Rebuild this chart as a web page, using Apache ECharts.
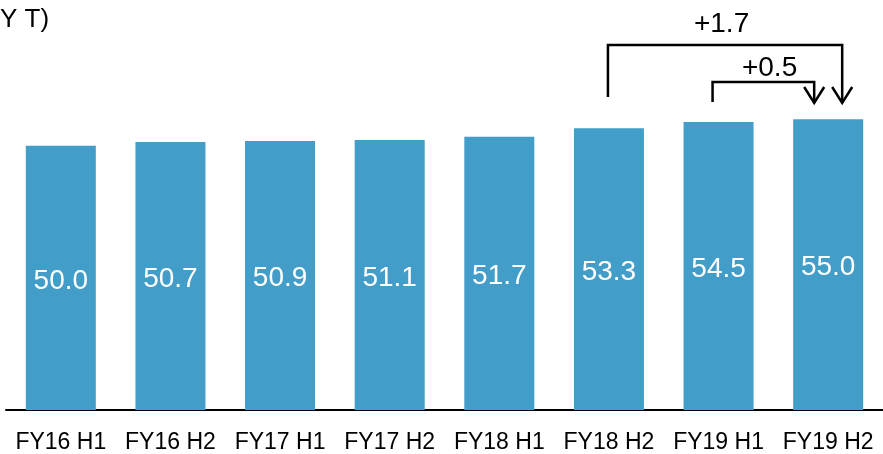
<!DOCTYPE html>
<html>
<head>
<meta charset="utf-8">
<script src="https://cdn.jsdelivr.net/npm/echarts@6/dist/echarts.min.js"></script>
<style>
html,body{margin:0;padding:0;background:#fff;}
#main{width:883px;height:454px;}
</style>
</head>
<body>
<div id="main"></div>
<script>
var categories = ['FY16 H1','FY16 H2','FY17 H1','FY17 H2','FY18 H1','FY18 H2','FY19 H1','FY19 H2'];
var values = [50.0, 50.7, 50.9, 51.1, 51.7, 53.3, 54.5, 55.0];
var unitText = 'Y T)';
var diffLong = '+1.7';
var diffShort = '+0.5';

var FONT = '"Liberation Sans", Arial, sans-serif';
var chart = echarts.init(document.getElementById('main'));
chart.setOption({
  animation: false,
  backgroundColor: '#ffffff',
  grid: { left: 6, width: 880, top: 40, bottom: 43 },
  xAxis: {
    type: 'category',
    data: categories,
    axisLine: { lineStyle: { color: '#000', width: 2 } },
    axisTick: { show: false },
    axisLabel: { color: '#000', fontSize: 23, fontFamily: FONT, margin: 21, interval: 0 }
  },
  yAxis: {
    type: 'value', min: 0, max: 70,
    show: false
  },
  series: [{
    type: 'bar',
    data: values,
    barWidth: 70,
    itemStyle: { color: '#429DC9' },
    label: {
      show: true, position: 'inside', color: '#fff', fontSize: 28, fontFamily: FONT,
      offset: [0, 3],
      formatter: function (p) { return p.value.toFixed(1); }
    }
  }]
});

var cx = function (c) { return chart.convertToPixel({ xAxisIndex: 0 }, c); };
var x18h2 = cx('FY18 H2'), x19h1 = cx('FY19 H1'), x19h2 = cx('FY19 H2');
var ls = { stroke: '#000', lineWidth: 2.5, fill: null };
function bracket(xL, yLeft, yTop, xR, yTip) {
  return [
    { type: 'polyline', shape: { points: [[xL, yLeft], [xL, yTop], [xR, yTop], [xR, yTip]] }, style: ls },
    { type: 'polyline', shape: { points: [[xR - 10, yTip - 16], [xR, yTip], [xR + 10, yTip - 16]] }, style: ls }
  ];
}
var els = [];
els = els.concat(bracket(x18h2 - 1, 97, 45, x19h2 + 14, 103));
els = els.concat(bracket(x19h1 - 6, 102, 82, x19h2 - 14, 103));
els.push({ type: 'text', x: (x18h2 + x19h2) / 2 + 3, y: 24, style: { text: diffLong, fill: '#000', font: '28px ' + FONT, textAlign: 'center', textVerticalAlign: 'middle' } });
els.push({ type: 'text', x: x19h1 + 51, y: 68, style: { text: diffShort, fill: '#000', font: '28px ' + FONT, textAlign: 'center', textVerticalAlign: 'middle' } });
els.push({ type: 'text', x: 0, y: 20, style: { text: unitText, fill: '#000', font: '26px ' + FONT, textAlign: 'left', textVerticalAlign: 'middle' } });
chart.setOption({ graphic: els });
</script>
</body>
</html>
